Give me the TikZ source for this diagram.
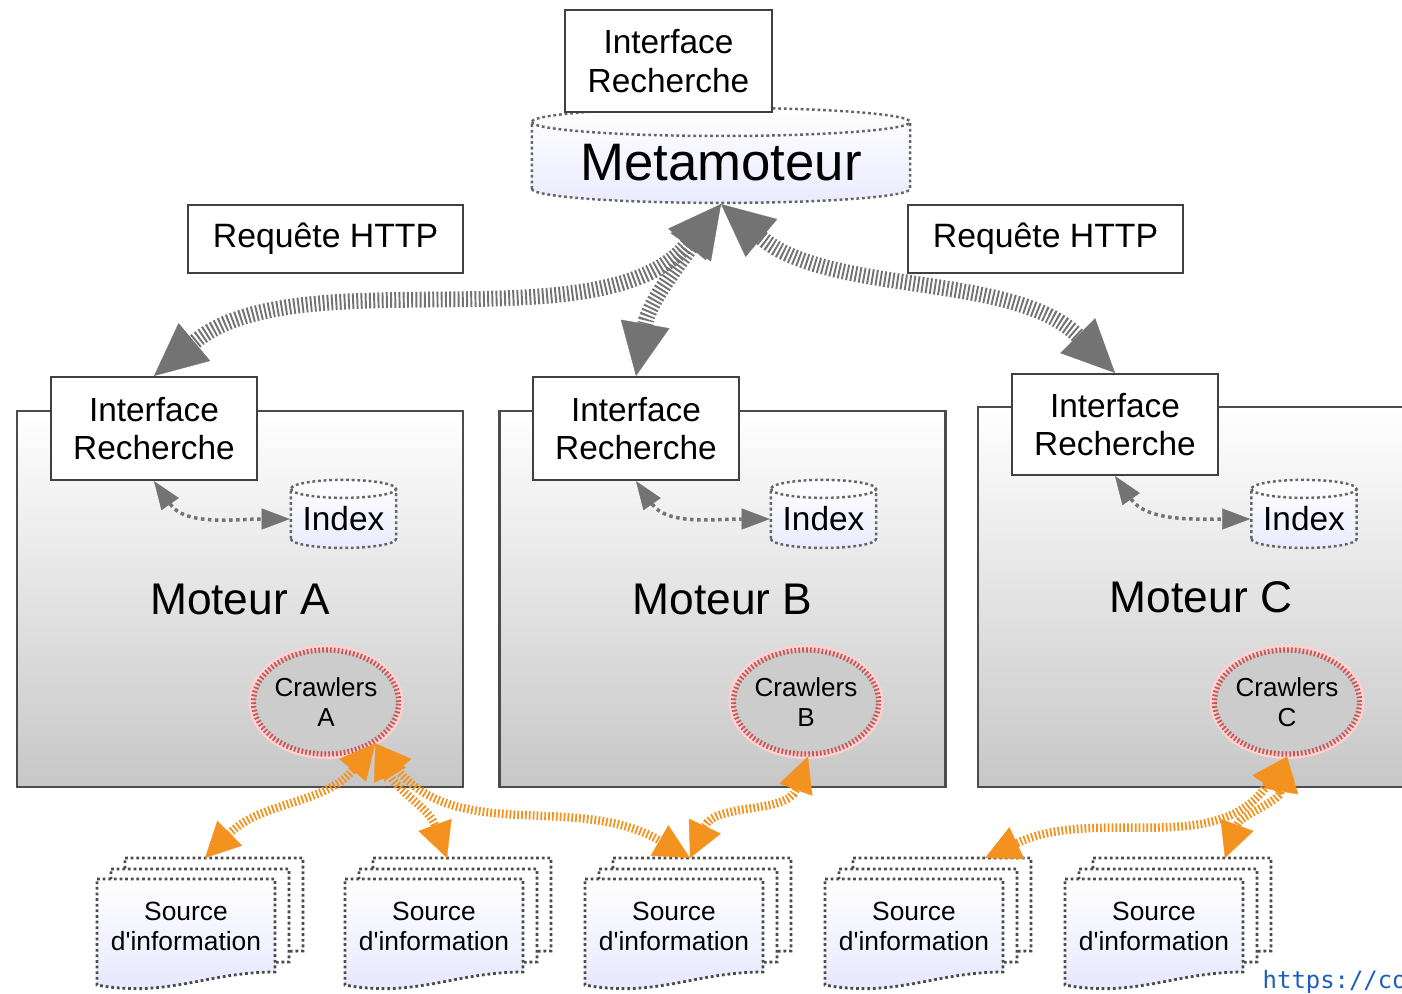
\documentclass[tikz,border=0pt]{standalone}
\usepackage{fontspec}
\setmainfont{Liberation Sans}
\newfontfamily\urlfont{DejaVu Sans Mono}
\usetikzlibrary{arrows.meta,positioning,calc,shapes.geometric}
\definecolor{crawlorange}{RGB}{243,146,30}
\definecolor{crawlred}{RGB}{200,88,88}
\definecolor{urlblue}{RGB}{30,95,190}

\begin{document}
\begin{tikzpicture}[x=0.01cm,y=-0.01cm]
\tikzset{moteur/.style={draw=black!70,line width=0.7pt,top color=white,bottom color=black!22,
  minimum width=4.46cm,minimum height=3.76cm,inner sep=0pt,font=\fontsize{12.6}{15}\selectfont}}
\tikzset{iface/.style={draw=black!75,fill=white,line width=0.6pt,align=center,inner sep=0pt,
  minimum width=2.06cm,minimum height=1.03cm,font=\fontsize{9.5}{11}\selectfont}}
\tikzset{requete/.style={draw=black!75,fill=white,line width=0.6pt,inner sep=0pt,
  minimum width=2.75cm,minimum height=0.68cm,font=\fontsize{9.6}{11}\selectfont}}
\tikzset{store/.style={cylinder,shape border rotate=90,draw=black!60,line width=0.7pt,
  dash pattern=on 0.8pt off 0.8pt,inner sep=0pt,top color=white,bottom color=blue!8}}
\tikzset{meta/.style={store,minimum width=3.78cm,minimum height=0.95cm,aspect=0.1,
  font=\fontsize{15}{18}\selectfont}}
\tikzset{index/.style={store,minimum width=1.05cm,minimum height=0.68cm,aspect=0.22,
  font=\fontsize{9.5}{11}\selectfont}}
\tikzset{crawler/.style={ellipse,fill=black!20,draw=crawlred,line width=1.5pt,
  dash pattern=on 0.5pt off 0.6pt,minimum width=1.4cm,minimum height=1.04cm,inner sep=0pt,
  align=center,font=\fontsize{7.4}{8.5}\selectfont,
  preaction={draw=red!18,solid,line width=2.8pt}}}
\tikzset{http/.style={draw=black!55,line width=4.5pt,dash pattern=on 0.55pt off 0.65pt,
  {Triangle[length=15pt,width=14pt,line width=0.1pt]}-{Triangle[length=15pt,width=14pt,line width=0.1pt]}}}
\tikzset{lien/.style={draw=black!55,line width=1pt,dash pattern=on 1pt off 1pt,
  {Triangle[length=8pt,width=6pt,line width=0.1pt]}-{Triangle[length=8pt,width=6pt,line width=0.1pt]}}}
\tikzset{crawl/.style={draw=crawlorange,line width=2.4pt,dash pattern=on 0.5pt off 0.6pt,
  {Triangle[length=10pt,width=10pt,line width=0.1pt]}-{Triangle[length=10pt,width=10pt,line width=0.1pt]}}}
\tikzset{page/.style={draw=black!70,line width=0.8pt,dash pattern=on 0.8pt off 0.8pt}}
\tikzset{srctext/.style={align=center,inner sep=0pt,font=\fontsize{7.5}{8.5}\selectfont}}

\useasboundingbox (0,0) rectangle (1402,993);

% metamoteur
\node[meta] (meta) at (721,163) {Metamoteur};
\node[iface,minimum height=1.02cm] (ifM) at (668.5,61) {Interface\\Recherche};
\node[requete] (reqL) at (325.5,239) {Requête HTTP};
\node[requete] (reqR) at (1045.5,239) {Requête HTTP};

% moteurs
\node[moteur] (motA) at (240,599) {Moteur A};
\node[moteur] (motB) at (722.5,599) {Moteur B};
\node[moteur,minimum height=3.80cm] (motC) at (1201,597) {Moteur C};

\node[iface] (ifA) at (154,428.5) {Interface\\Recherche};
\node[iface] (ifB) at (636,428.5) {Interface\\Recherche};
\node[iface,minimum height=1.01cm] (ifC) at (1115,424.5) {Interface\\Recherche};

\node[index] (idxA) at (343.5,519) {Index};
\node[index] (idxB) at (823.5,519) {Index};
\node[index] (idxC) at (1304,519) {Index};

\node[crawler] (crA) at (326,702) {Crawlers\\A};
\node[crawler] (crB) at (806,702) {Crawlers\\B};
\node[crawler] (crC) at (1287,702) {Crawlers\\C};

\draw[lien] (ifA.south) to[out=-55,in=180] (idxA.west);
\draw[lien] (ifB.south) to[out=-55,in=180] (idxB.west);
\draw[lien] (ifC.south) to[out=-55,in=180] (idxC.west);

% sources d'information
\foreach \x/\ix [count=\i] in {97/108,345/102,585/105,825/160,1065/160}{
  \foreach \dx/\dy in {28/21,14/10}{
    \path[page,fill=white] (\x+\dx,879-\dy) -- (\x+\dx+178,879-\dy) -- (\x+\dx+178,972-\dy)
      .. controls (\x+\dx+110,972-\dy) and (\x+\dx+70,998-\dy) .. (\x+\dx,985-\dy) -- cycle;
  }
  \path[page,top color=white,bottom color=blue!10] (\x,879) -- (\x+178,879) -- (\x+178,972)
    .. controls (\x+110,972) and (\x+70,998) .. (\x,985) -- cycle;
  \node[srctext] (src\i) at (\x+89,926) {Source\\d\textquotesingle information};
  \coordinate (in\i) at (\x+\ix,858);
}

% requetes HTTP
\draw[http] (meta.south) to[out=230,in=40,looseness=0.8] (ifA.north);
\draw[http] (meta.south) to[out=235,in=80] (ifB.north);
\draw[http] (meta.south) to[out=-40,in=135,looseness=0.85] (ifC.north);

% crawlers
\draw[crawl] (crA.-40) to[out=230,in=45] (in1);
\draw[crawl] (crA.-40) to[out=-65,in=110] (in2);
\draw[crawl] (crA.-40) to[out=-50,in=150] (in3);
\draw[crawl] (crB.-88) to[out=250,in=65] (in3);
\draw[crawl] (crC.south) to[out=235,in=25] (in4);
\draw[crawl] (crC.south) to[out=-100,in=70] (in5);

\node[anchor=base west,inner sep=0pt,text=urlblue,font=\urlfont\fontsize{6.8}{8}\selectfont] (url) at (1262,988) {https://co};
\end{tikzpicture}
\end{document}
